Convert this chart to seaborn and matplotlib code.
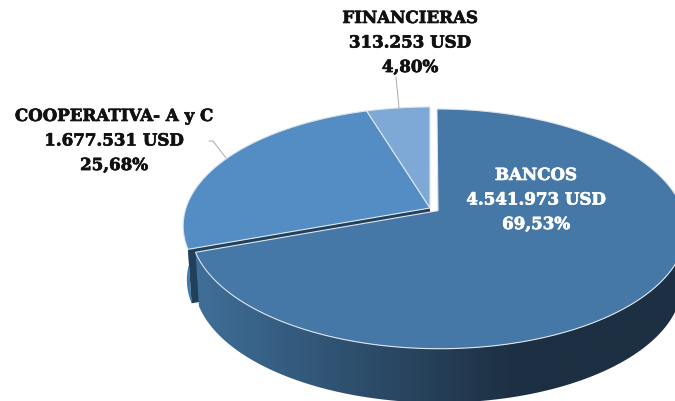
import numpy as np
import matplotlib
matplotlib.use('Agg')
import matplotlib.pyplot as plt
import matplotlib.patheffects as pe
from matplotlib.patches import Polygon
import seaborn as sns

# Data
categories = ['BANCOS', 'COOPERATIVA- A y C', 'FINANCIERAS']
values = [4541973, 1677531, 313253]
top_colors = ['#4577A7', '#538DC4', '#7EA8D6']

# Layout of the fake 3D pie, in pixels
cx, cy = 430, 208
rx, ry = 244, 116.3
tilt = 0.151
depth = 54
shrink = 0.985

sns.set_theme(style='white')
plt.rcParams['font.family'] = ['DejaVu Serif', 'Liberation Serif']

fig = plt.figure(figsize=(6.75, 4.01), dpi=100)
ax = fig.add_axes([0, 0, 1, 1])

# let pie work out the angles, then redraw the wedges in perspective
wedges, _ = ax.pie(values, startangle=90, counterclock=False, explode=[0.04, 0, 0])
shapes = [(w.center, w.theta1, w.theta2) for w in wedges]
for w in wedges:
    w.remove()
ax.set_aspect('auto')


def project(u, v):
    w = 1 + tilt * v
    return cx + rx * u / w, cy - ry * v / w


def arc(shape):
    center, t1, t2 = shape
    t = np.radians(np.linspace(t1, t2, 200))
    return project(center[0] + np.cos(t), center[1] + np.sin(t))


def lower(x, y):
    return cx + (x - cx) * shrink, y + depth


bancos_x, bancos_y = arc(shapes[0])
coop_x, coop_y = arc(shapes[1])
apex_x, apex_y = project(*shapes[1][0])

# cooperativa outer wall and dark cut face
low_x, low_y = lower(coop_x, coop_y)
ax.fill(np.r_[coop_x, low_x[::-1]], np.r_[coop_y, low_y[::-1]], color='#3F7AAE', lw=0, zorder=1)
lx0, ly0 = lower(apex_x, apex_y)
ax.fill([apex_x, coop_x[-1], low_x[-1], lx0], [apex_y, coop_y[-1], low_y[-1], ly0],
        color='#23405A', lw=0, zorder=1)

# bancos wall with horizontal gradient
low_x, low_y = lower(bancos_x, bancos_y)
wall = Polygon(np.c_[np.r_[bancos_x, low_x[::-1]], np.r_[bancos_y, low_y[::-1]]],
               closed=True, transform=ax.transData)
cmap = sns.blend_palette(['#40709A', '#2E4F6E', '#1D2F42', '#1D2F42'], as_cmap=True)
img = ax.imshow(np.linspace(0, 1, 256)[None, :], cmap=cmap, aspect='auto',
                extent=(190, 680, 410, 240), zorder=2)
img.set_clip_path(wall)

# top faces
for shape, color in zip(shapes, top_colors):
    x, y = arc(shape)
    ox, oy = project(*shape[0])
    ax.fill(np.r_[ox, x], np.r_[oy, y], facecolor=color, edgecolor='#DDE6EE', lw=0.8, zorder=3)

# labels
total = sum(values)
label_pos = [(536, 200), (114, 141), (410, 43)]
label_colors = ['white', '#111111', '#111111']
for name, val, pos, col in zip(categories, values, label_pos, label_colors):
    amount = f'{val:,}'.replace(',', '.')
    share = f'{100 * val / total:.2f}'.replace('.', ',')
    ax.text(pos[0], pos[1], f'{name}\n{amount} USD\n{share}%', color=col, ha='center',
            va='center', fontsize=12, fontweight='bold', linespacing=1.58, zorder=5,
            path_effects=[pe.withStroke(linewidth=0.5, foreground=col)])

# leader lines
ax.plot([399, 396], [108, 77], color='#AAAAAA', lw=0.7, zorder=4)
ax.plot([226, 213, 209], [158, 141, 141], color='#AAAAAA', lw=0.7, zorder=4)

ax.set_xlim(0, 675)
ax.set_ylim(401, 0)
ax.axis('off')

fig.savefig('out.png', dpi=100)
